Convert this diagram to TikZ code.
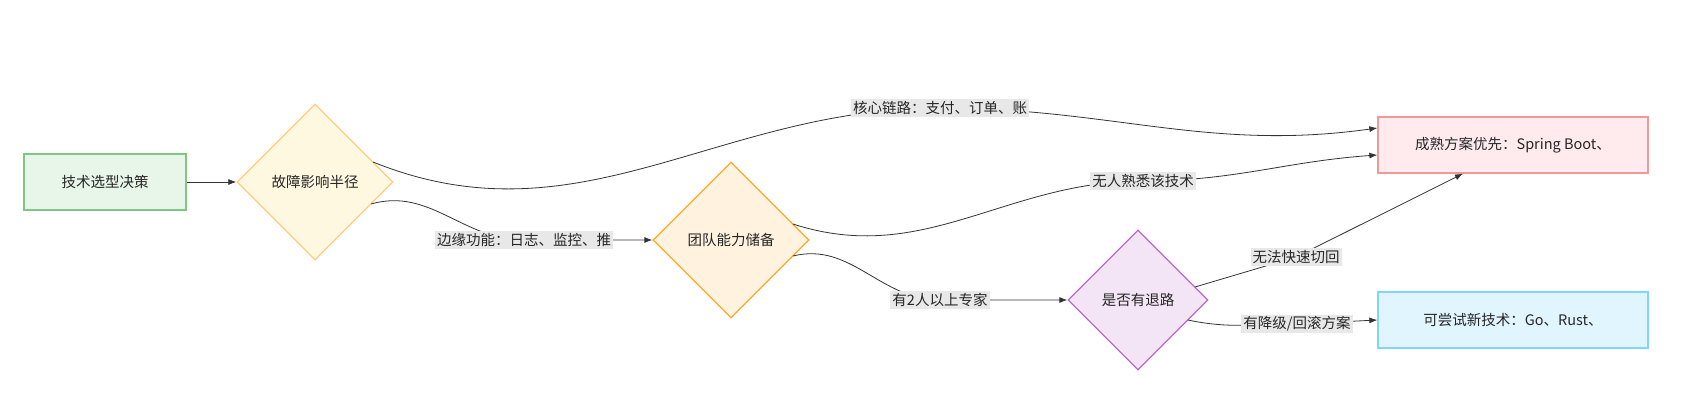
\documentclass[tikz,border=0pt]{standalone}
\usepackage{fontspec}
\setmainfont{Noto Sans CJK SC}
\usetikzlibrary{shapes.geometric,arrows.meta,calc}
\definecolor{edge}{HTML}{333333}
\definecolor{gF}{HTML}{E8F5E9}\definecolor{gD}{HTML}{81C784}
\definecolor{yF}{HTML}{FFF8E1}\definecolor{yD}{HTML}{FFCC80}
\definecolor{oF}{HTML}{FFF3E0}\definecolor{oD}{HTML}{FFA726}
\definecolor{pF}{HTML}{F3E5F5}\definecolor{pD}{HTML}{BA68C8}
\definecolor{rF}{HTML}{FFEBEE}\definecolor{rD}{HTML}{EF9A9A}
\definecolor{bF}{HTML}{E1F5FE}\definecolor{bD}{HTML}{81D4FA}
\tikzset{
  box/.style={draw, line width=1.3pt, minimum width=162pt, minimum height=56pt, font=\fontsize{14.5}{17}\selectfont, text=black!85},
  dia/.style={diamond, draw, line width=1.3pt, aspect=1, inner sep=0pt, font=\fontsize{14.5}{17}\selectfont, text=black!85},
  lab/.style={fill=black!9, inner sep=2pt, font=\fontsize{14.5}{17}\selectfont, text=black!85},
  conn/.style={draw=edge, line width=0.8pt, -{Latex[length=8pt,width=6pt]}},
}
\begin{document}
\begin{tikzpicture}[x=1pt,y=-1pt]
\useasboundingbox (0,0) rectangle (1690,408);
\node[box, fill=gF, draw=gD] (start) at (105,182) {技术选型决策};
\node[dia, minimum size=156pt, fill=yF, draw=yD] (d1) at (315,182) {故障影响半径};
\node[dia, minimum size=156pt, fill=oF, draw=oD] (d2) at (731,240) {团队能力储备};
\node[dia, minimum size=140pt, fill=pF, draw=pD] (d3) at (1138,300) {是否有退路};
\node[box, minimum width=270pt, fill=rF, draw=rD] (mat) at (1513,145) {成熟方案优先：Spring Boot、};
\node[box, minimum width=270pt, fill=bF, draw=bD] (new) at (1513,320) {可尝试新技术：Go、Rust、};
\coordinate (m1) at (940,108);
\coordinate (m2) at (1143,181);
\coordinate (m3) at (524,240);
\coordinate (m4) at (940,300);
\coordinate (m5) at (1296,257);
\coordinate (m6) at (1297,324);
\coordinate (s1) at ($(d1)+(58,-20)$);
\coordinate (s2) at ($(d1)+(56,22)$);
\coordinate (s3) at ($(d2)+(62,-16)$);
\coordinate (s4) at ($(d2)+(62,16)$);
\coordinate (s5) at ($(d3)+(57,-13)$);
\coordinate (s6) at ($(d3)+(50,20)$);
\draw[conn] (start) -- (d1);
\draw[conn] (s1) to[out=-22,in=180] (m1) to[out=0,in=188] ($(mat.west)+(0,-17)$);
\draw[conn] (s2) to[out=16,in=180] (m3) -- (d2.west);
\draw[conn] (s3) to[out=-18,in=180] (m2) to[out=0,in=184] ($(mat.west)+(0,10)$);
\draw[conn] (s4) to[out=14,in=180] (m4) -- (d3.west);
\draw[conn] (s5) -- (m5) -- ($(mat.south)+(-50,0)$);
\draw[conn] (s6) to[out=-12,in=180] (m6) -- (new.west);
\node[lab] (l1) at (m1) {核心链路：支付、订单、账};
\node[lab] (l2) at (m2) {无人熟悉该技术};
\node[lab] (l3) at (m3) {边缘功能：日志、监控、推};
\node[lab] (l4) at (m4) {有2人以上专家};
\node[lab] (l5) at (m5) {无法快速切回};
\node[lab] (l6) at (m6) {有降级/回滚方案};
\end{tikzpicture}
\end{document}
